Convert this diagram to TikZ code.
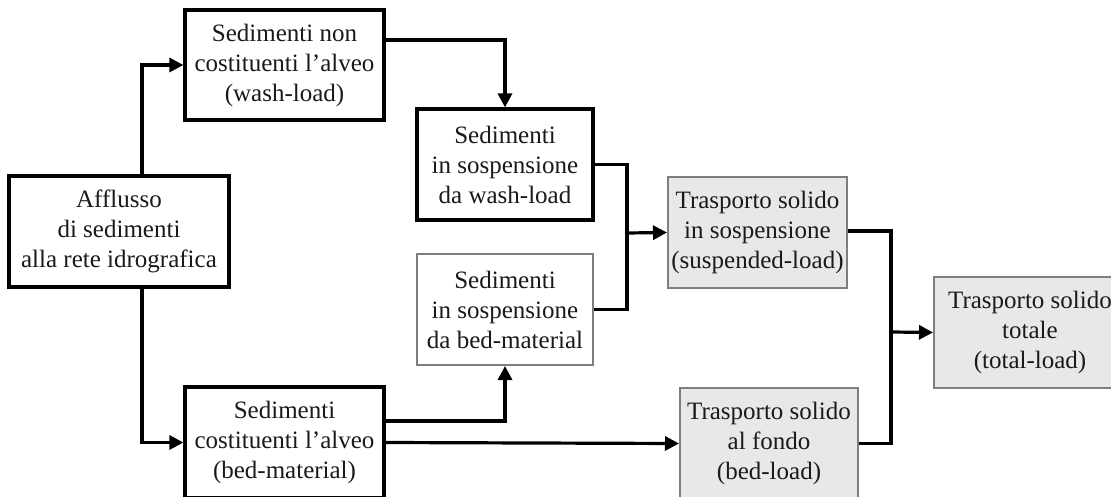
\documentclass[tikz,border=0pt]{standalone}
\usepackage{fontspec}
\setmainfont{Liberation Serif}
\usetikzlibrary{arrows.meta}
\definecolor{txt}{HTML}{1A1A1A}
\definecolor{boxgray}{HTML}{E8E8E8}
\definecolor{edgegray}{HTML}{7E7E7E}
\tikzset{
  box/.style={draw=black, line width=3.2pt, fill=white, align=center, inner sep=0pt,
    text=txt, font=\fontsize{25}{30}\selectfont},
  graybox/.style={box, draw=edgegray, line width=2pt},
  grayfill/.style={graybox, fill=boxgray},
  conn/.style={line width=3.2pt, draw=black},
  arr/.style={conn, -{Triangle[length=14pt,width=14pt]}},
}
\begin{document}
\begin{tikzpicture}[x=1pt,y=-1pt]
\useasboundingbox (0,0) rectangle (1111,497);
\clip (0,0) rectangle (1111,497);
\node[box, minimum width=220pt, minimum height=111pt] (A) at (119,231.5)
  {Afflusso\\di sedimenti\\alla rete idrografica};
\node[box, minimum width=199pt, minimum height=110pt] (B) at (284.5,65)
  {Sedimenti non\\costituenti l’alveo\\(wash-load)};
\node[box, minimum width=176pt, minimum height=111pt] (C) at (505,164.5)
  {Sedimenti\\in sospensione\\da wash-load};
\node[graybox, minimum width=176pt, minimum height=111pt] (D) at (505,309.5)
  {Sedimenti\\in sospensione\\da bed-material};
\node[grayfill, minimum width=179pt, minimum height=111pt] (E) at (757.5,232.5)
  {Trasporto solido\\in sospensione\\(suspended-load)};
\node[box, minimum width=199pt, minimum height=111pt] (F) at (284.5,442.5)
  {Sedimenti\\costituenti l’alveo\\(bed-material)};
\node[grayfill, minimum width=178pt, minimum height=111pt] (G) at (769,443.5)
  {Trasporto solido\\al fondo\\(bed-load)};
\node[grayfill, minimum width=192pt, minimum height=111pt] (H) at (1030,332.5)
  {Trasporto solido\\totale\\(total-load)};
\coordinate (j1) at (627,233);
\coordinate (j2) at (891,332);
% connectors
\draw[arr] ([xshift=23pt]A.north) |- (B.west);
\draw[arr] ([xshift=23pt]A.south) |- (F.west);
\draw[arr] ([yshift=25pt]B.east) -| (C.north);
\draw[conn] (C.east) -| (j1) |- (D.east);
\draw[arr] (j1) -- (E.west);
\draw[arr] ([yshift=21.5pt]F.east) -| (D.south);
\draw[arr] (F.east) -- (G.west);
\draw[conn] ([yshift=1.5pt]E.east) -| (j2) |- (G.east);
\draw[arr] (j2) -- (H.west);
\end{tikzpicture}
\end{document}
